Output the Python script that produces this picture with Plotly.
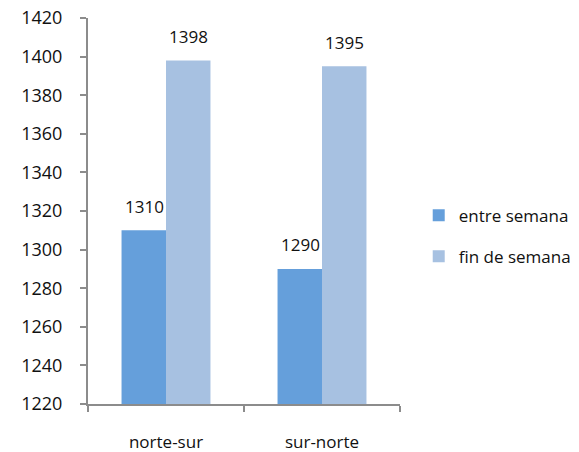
import plotly.graph_objects as go

# data
categories = ["norte-sur", "sur-norte"]
entre_semana = [1310, 1290]
fin_de_semana = [1398, 1395]
ytick_vals = list(range(1220, 1421, 20))

col_entre = "#659fdb"
col_fin = "#a7c1e1"
font_name = "Open Sans"
txt = "#111111"

fig = go.Figure()
fig.add_trace(go.Bar(x=categories, y=entre_semana, name="entre semana",
                     marker_color=col_entre, marker_line_width=0, legendgroup="a"))
fig.add_trace(go.Bar(x=categories, y=fin_de_semana, name="fin de semana",
                     marker_color=col_fin, marker_line_width=0, legendgroup="b"))

# value labels above each bar
for cat, v in zip(categories, entre_semana):
    fig.add_annotation(x=cat, y=v, text=str(v), showarrow=False, xshift=-22, yshift=24,
                       font=dict(size=17, color=txt, family=font_name))
for cat, v in zip(categories, fin_de_semana):
    fig.add_annotation(x=cat, y=v, text=str(v), showarrow=False, xshift=22, yshift=24,
                       font=dict(size=17, color=txt, family=font_name))

fig.update_layout(
    width=579, height=452,
    margin=dict(l=88, r=179, t=18, b=48, autoexpand=False),
    plot_bgcolor="white", paper_bgcolor="white",
    barmode="group", bargap=0.43, bargroupgap=0,
    font=dict(family=font_name, size=17, color=txt),
    legend=dict(x=1.06, y=0.435, xanchor="left", yanchor="middle",
                tracegroupgap=16, font=dict(size=17), itemwidth=30),
)
fig.update_xaxes(showline=True, linecolor="#8c8c8c", linewidth=2,
                 ticks="outside", tickson="boundaries", ticklen=6, tickcolor="#8c8c8c",
                 tickwidth=2, ticklabelstandoff=22, showgrid=False, automargin=False)
fig.update_yaxes(range=[1220, 1420], tickvals=ytick_vals, showline=True,
                 linecolor="#8c8c8c", linewidth=2, ticks="outside", ticklen=6,
                 tickcolor="#8c8c8c", tickwidth=2, showgrid=False, zeroline=False,
                 ticklabelstandoff=14, automargin=False, ticklabeloverflow="allow",
                 tickfont=dict(size=18))

# drop the default 8px page margin so the figure fills the window
fig.write_html("out.html", config={"displayModeBar": False},
               post_script="document.body.style.margin='0';")
